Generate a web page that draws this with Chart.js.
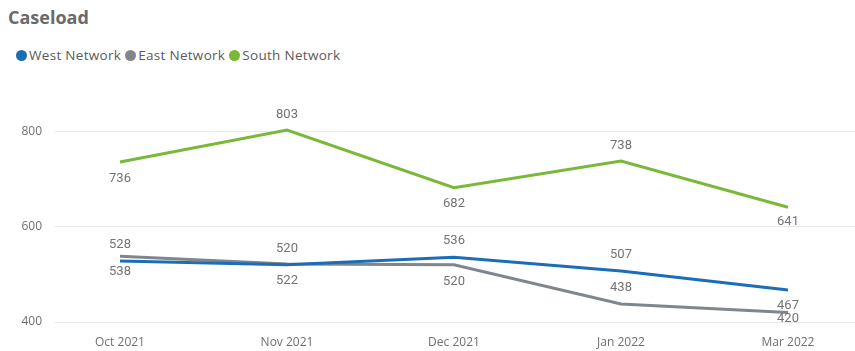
<!DOCTYPE html>
<html>
<head>
<meta charset="utf-8">
<title>Caseload</title>
<script src="https://cdn.jsdelivr.net/npm/chart.js@4/dist/chart.umd.min.js"></script>
<style>
  html, body { margin: 0; padding: 0; background: #fff; }
  #wrap { position: relative; width: 855px; height: 351px; overflow: hidden; }
  #title {
    position: absolute; left: 8px; top: 5px;
    font: bold 18px "Open Sans", sans-serif; color: #6a6a6a;
  }
  #legend {
    position: absolute; left: 16px; top: 46px;
    display: flex; align-items: center;
    font: 13.5px "Open Sans", sans-serif; color: #5a5a5a;
    letter-spacing: 0.3px;
  }
  .item { display: flex; align-items: center; margin-right: 4px; }
  .dot { width: 11px; height: 11px; border-radius: 50%; margin-right: 2px; }
  canvas { position: absolute; left: 0; top: 0; }
</style>
</head>
<body>
<div id="wrap">
  <div id="title">Caseload</div>
  <div id="legend"></div>
  <canvas id="chart" width="855" height="351"></canvas>
</div>
<script>
// Months shown along the x axis
const categories = ['Oct 2021', 'Nov 2021', 'Dec 2021', 'Jan 2022', 'Mar 2022'];

// Caseload per network
const westNetwork  = [528, 520, 536, 507, 467];
const eastNetwork  = [538, 522, 520, 438, 420];
const southNetwork = [736, 803, 682, 738, 641];

// Value axis ticks
const yTicks = [400, 600, 800];

// Vertical placement of each value label relative to its point (px, negative = above)
const westLabelOffset  = [-16, -16, -16, -16, 16];
const eastLabelOffset  = [15, 17, 17, -16, 6];
const southLabelOffset = [17, -15, 16, -15, 15];

const series = [
  { name: 'West Network',  values: westNetwork,  color: '#1b6db8', offsets: westLabelOffset },
  { name: 'East Network',  values: eastNetwork,  color: '#7f868d', offsets: eastLabelOffset },
  { name: 'South Network', values: southNetwork, color: '#7ab83a', offsets: southLabelOffset }
];

// HTML legend
const legend = document.getElementById('legend');
series.forEach(s => {
  const item = document.createElement('div');
  item.className = 'item';
  const dot = document.createElement('span');
  dot.className = 'dot';
  dot.style.background = s.color;
  const txt = document.createElement('span');
  txt.textContent = s.name;
  item.appendChild(dot);
  item.appendChild(txt);
  legend.appendChild(item);
});

// Draws the value next to every point
const valueLabels = {
  id: 'valueLabels',
  afterDatasetsDraw(chart) {
    const ctx = chart.ctx;
    ctx.save();
    ctx.font = '13px Roboto, sans-serif';
    ctx.fillStyle = '#737373';
    ctx.textAlign = 'center';
    ctx.textBaseline = 'middle';
    chart.data.datasets.forEach((ds, di) => {
      const meta = chart.getDatasetMeta(di);
      meta.data.forEach((pt, i) => {
        const off = series[di].offsets[i];
        ctx.fillText(String(ds.data[i].y), pt.x, pt.y + off);
      });
    });
    ctx.restore();
  }
};

const xStep = 167;
const xFirst = 120;
const plotLeft = 55;
const plotRight = 855;

new Chart(document.getElementById('chart'), {
  type: 'line',
  data: {
    datasets: series.map(s => ({
      label: s.name,
      data: s.values.map((v, i) => ({ x: i, y: v })),
      borderColor: s.color,
      backgroundColor: s.color,
      borderWidth: 3,
      pointRadius: 0,
      pointHoverRadius: 0,
      tension: 0,
      fill: false
    }))
  },
  options: {
    responsive: false,
    animation: false,
    events: [],
    layout: { padding: { top: 100, left: 0, right: 0, bottom: 0 } },
    plugins: {
      legend: { display: false },
      title: { display: false },
      tooltip: { enabled: false }
    },
    scales: {
      x: {
        type: 'linear',
        min: (plotLeft - xFirst) / xStep,
        max: (plotRight - xFirst) / xStep,
        grid: { display: false },
        border: { display: false },
        afterBuildTicks(scale) {
          scale.ticks = categories.map((_, i) => ({ value: i }));
        },
        afterFit(scale) { scale.height = 29; },
        ticks: {
          padding: 5,
          maxRotation: 0,
          autoSkip: false,
          color: '#6f6f6f',
          font: { family: 'Open Sans', size: 12 },
          callback: v => categories[v]
        }
      },
      y: {
        min: 400,
        max: 866,
        afterBuildTicks(scale) {
          scale.ticks = yTicks.map(v => ({ value: v }));
        },
        afterFit(scale) { scale.width = plotLeft; },
        grid: { color: '#e9e9e9', lineWidth: 1, drawTicks: false },
        border: { display: false },
        ticks: {
          padding: 13,
          color: '#6f6f6f',
          font: { family: 'Open Sans', size: 12 }
        }
      }
    }
  },
  plugins: [valueLabels]
});
</script>
</body>
</html>
